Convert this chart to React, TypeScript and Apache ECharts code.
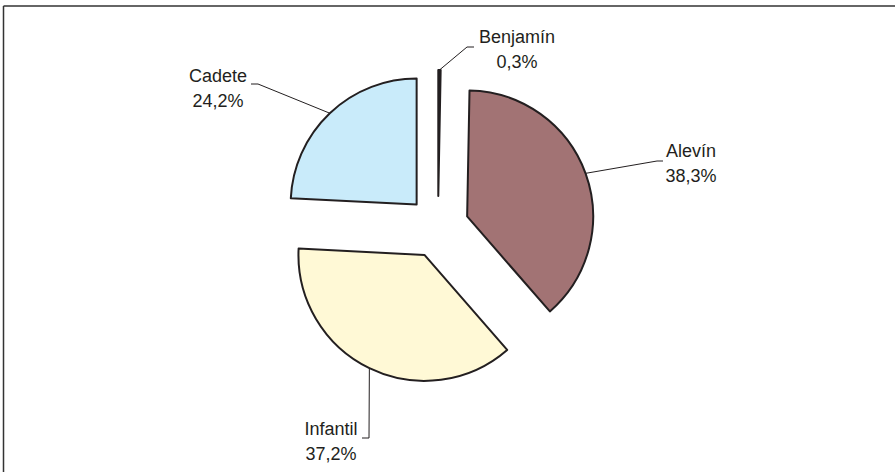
import React, { useEffect, useRef } from "react";
import * as echarts from "echarts";

const categories = ["Benjamín", "Alevín", "Infantil", "Cadete"];
const values = [0.3, 38.3, 37.2, 24.2];
const colors = ["#231f20", "#a27374", "#fff9d6", "#c9ebfa"];

// layout constants
const PIE_CENTER: [number, number] = [438, 227];
const PIE_R = 126;
const OFFSET = 31;
// label block centres and leader-line elbows, per category
const labelCenters: [number, number][] = [
  [517, 49],
  [691, 163],
  [331, 441],
  [218, 88],
];
const elbows: [number, number][][] = [
  [[467, 47], [474, 47]],
  [[657, 161], [663, 161]],
  [[369, 438], [362, 438]],
  [[258, 84], [251, 84]],
];

const fmt = (p: any) =>
  `${p.name}\n${Number(p.value).toFixed(1).replace(".", ",")}%`;

export default function App() {
  const ref = useRef<HTMLDivElement>(null);
  useEffect(() => {
    document.body.style.margin = "0";
    const chart = echarts.init(ref.current!, undefined, { renderer: "svg" });
    chart.setOption({
      animation: false,
      backgroundColor: "#ffffff",
      graphic: [
        {
          type: "line",
          shape: { x1: 3.5, y1: 6, x2: 895, y2: 6 },
          style: { stroke: "#333333", lineWidth: 1.5 },
        },
        {
          type: "line",
          shape: { x1: 3.5, y1: 6, x2: 3.5, y2: 472 },
          style: { stroke: "#333333", lineWidth: 1.5 },
        },
      ],
      series: [
        {
          type: "pie",
          center: PIE_CENTER,
          radius: PIE_R,
          startAngle: 90,
          clockwise: true,
          selectedMode: "multiple",
          selectedOffset: OFFSET,
          avoidLabelOverlap: false,
          silent: true,
          itemStyle: { borderColor: "#231f20", borderWidth: 2 },
          label: { show: false },
          labelLine: { show: false },
          data: categories.map((name, i) => ({
            name,
            value: values[i],
            selected: true,
            itemStyle: { color: colors[i] },
          })),
        },
        {
          type: "pie",
          center: PIE_CENTER,
          radius: PIE_R,
          startAngle: 90,
          clockwise: true,
          avoidLabelOverlap: false,
          silent: true,
          z: 3,
          itemStyle: { color: "rgba(0,0,0,0)", borderWidth: 0 },
          label: {
            show: true,
            position: "outside",
            color: "#231f20",
            fontFamily: "Liberation Sans, Arial, sans-serif",
            fontSize: 18,
            lineHeight: 25,
            align: "center",
            formatter: fmt,
          },
          labelLine: {
            show: true,
            length: 20,
            length2: 10,
            lineStyle: { color: "#231f20", width: 1 },
          },
          labelLayout: (params: any) => {
            const i = params.dataIndex;
            let p0: number[] = elbows[i][0];
            if (params.labelLinePoints && params.labelLinePoints[0]) {
              const q = params.labelLinePoints[0];
              const k = OFFSET / PIE_R;
              p0 = [
                q[0] + (q[0] - PIE_CENTER[0]) * k,
                q[1] + (q[1] - PIE_CENTER[1]) * k,
              ];
            }
            return {
              x: labelCenters[i][0],
              y: labelCenters[i][1],
              align: "center",
              verticalAlign: "middle",
              labelLinePoints: [p0, elbows[i][0], elbows[i][1]],
            };
          },
          data: categories.map((name, i) => ({ name, value: values[i] })),
        },
      ],
    });
    return () => chart.dispose();
  }, []);
  return <div ref={ref} style={{ width: 895, height: 472 }} />;
}
